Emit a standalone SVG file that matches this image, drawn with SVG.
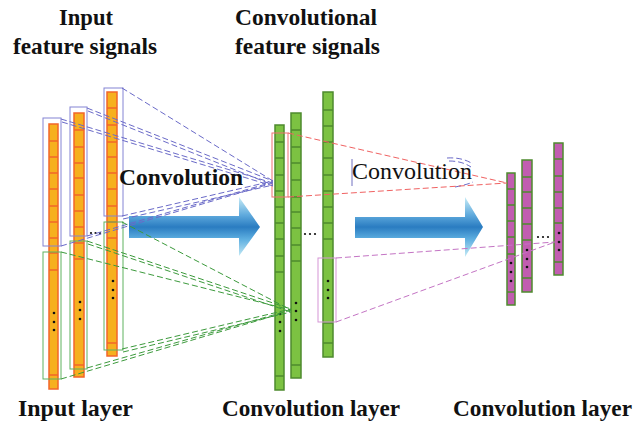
<svg xmlns="http://www.w3.org/2000/svg" width="633" height="423" viewBox="0 0 633 423">
<style>
.t{font-weight:bold;font-size:23px;fill:#111}
.tn{font-size:24px;fill:#111}
.or{fill:#F6B01E;stroke:#F2662A;stroke-width:1.5}
.orl{stroke:#F2662A;stroke-width:1.5}
.gr{fill:#7CC242;stroke:#4E8A2E;stroke-width:1.5}
.grl{stroke:#4E8A2E;stroke-width:1.5}
.pk{fill:#C15DB0;stroke:#4E8A2E;stroke-width:1.5}
.bbox{fill:none;stroke:#8484D4;stroke-width:1}
.gbox{fill:none;stroke:#5FB25F;stroke-width:1}
.rbox{fill:none;stroke:#F07070;stroke-width:1}
.mbox{fill:none;stroke:#D596D5;stroke-width:1}
.dl{fill:none;stroke-width:1;stroke-dasharray:6 3}
.db{stroke:#6A6AC8}
.dg{stroke:#3C9A3C}
.dr{stroke:#F06262}
.dm{stroke:#C474C4}
.dot{fill:#111}
</style>
<defs>
<linearGradient id="ag" x1="0" y1="197" x2="0" y2="257" gradientUnits="userSpaceOnUse">
<stop offset="0" stop-color="#C8ECF6"/>
<stop offset="0.3" stop-color="#5FAADD"/>
<stop offset="0.5" stop-color="#2A7CC1"/>
<stop offset="0.7" stop-color="#5DAEE0"/>
<stop offset="1" stop-color="#C8ECF6"/>
</linearGradient>
</defs>

<g id="titles" font-family="Liberation Serif, Tinos, Times New Roman, Times, serif">
<text class="t" x="59" y="25" textLength="54" lengthAdjust="spacingAndGlyphs">Input</text>
<text class="t" x="13" y="54" textLength="144" lengthAdjust="spacingAndGlyphs">feature signals</text>
<text class="t" x="235" y="25" textLength="142" lengthAdjust="spacingAndGlyphs">Convolutional</text>
<text class="t" x="235" y="54" textLength="145" lengthAdjust="spacingAndGlyphs">feature signals</text>
<text class="t" x="18" y="416" textLength="115" lengthAdjust="spacingAndGlyphs">Input layer</text>
<text class="t" x="222" y="416" textLength="178" lengthAdjust="spacingAndGlyphs">Convolution layer</text>
<text class="t" x="453" y="416" textLength="179" lengthAdjust="spacingAndGlyphs">Convolution layer</text>
</g>

<g id="arrows">
<path d="M129,216 H239 V197 L260,227 L239,256 V238 H129 Z" fill="url(#ag)"/>
<path d="M355,217 H465 V197 L483,227 L465,257 V238 H355 Z" fill="url(#ag)"/>
</g>

<g id="input-bar-1">
<rect class="or" x="49" y="124" width="9" height="265"/>
<path class="orl" d="M49,141h9M49,157h9M49,173h9M49,189h9M49,206h9M49,222h9M49,238h9M49,253h9M49,270h9M49,375h9"/>
<circle class="dot" cx="54" cy="313" r="1.3"/><circle class="dot" cx="54" cy="322" r="1.3"/><circle class="dot" cx="54" cy="330" r="1.3"/>
</g>
<g id="input-bar-2">
<rect class="or" x="74" y="113" width="10" height="264"/>
<path class="orl" d="M74,130h10M74,147h10M74,163h10M74,178h10M74,195h10M74,211h10M74,227h10M74,243h10M74,259h10M74,365h10"/>
<circle class="dot" cx="80" cy="302" r="1.3"/><circle class="dot" cx="80" cy="310" r="1.3"/><circle class="dot" cx="80" cy="319" r="1.3"/>
</g>
<g id="input-bar-3">
<rect class="or" x="107" y="92" width="10" height="264"/>
<path class="orl" d="M107,108h10M107,125h10M107,142h10M107,157h10M107,173h10M107,189h10M107,206h10M107,222h10M107,238h10M107,343h10"/>
<circle class="dot" cx="113" cy="281" r="1.3"/><circle class="dot" cx="113" cy="290" r="1.3"/><circle class="dot" cx="113" cy="298" r="1.3"/>
</g>
<g id="input-ellipsis">
<circle class="dot" cx="91" cy="233" r="1.1"/><circle class="dot" cx="95.5" cy="233" r="1.1"/><circle class="dot" cx="100" cy="233" r="1.1"/>
</g>

<g id="input-windows">
<rect class="bbox" x="43" y="118" width="18" height="128"/>
<rect class="bbox" x="70" y="107" width="17" height="129"/>
<rect class="bbox" x="104" y="88" width="19" height="128"/>
<rect class="gbox" x="43" y="252" width="18" height="127"/>
<rect class="gbox" x="70" y="241" width="17" height="128"/>
<rect class="gbox" x="104" y="222" width="19" height="128"/>
</g>

<g id="conv-bar-1">
<rect class="gr" x="275" y="125" width="9" height="265"/>
<path class="grl" d="M275,142h9M275,158h9M275,175h9M275,191h9M275,207h9M275,223h9M275,239h9M275,256h9M275,272h9M275,376h9"/>
<circle class="dot" cx="280" cy="314" r="1.3"/><circle class="dot" cx="280" cy="322" r="1.3"/><circle class="dot" cx="280" cy="331" r="1.3"/>
</g>
<g id="conv-bar-2">
<rect class="gr" x="291" y="113" width="10" height="265"/>
<path class="grl" d="M291,130h10M291,147h10M291,163h10M291,180h10M291,197h10M291,212h10M291,228h10M291,245h10M291,261h10M291,365h10"/>
<circle class="dot" cx="296" cy="303" r="1.3"/><circle class="dot" cx="296" cy="311" r="1.3"/><circle class="dot" cx="296" cy="320" r="1.3"/>
</g>
<g id="conv-bar-3">
<rect class="gr" x="323" y="92" width="10" height="265"/>
<path class="grl" d="M323,110h10M323,126h10M323,142h10M323,158h10M323,175h10M323,191h10M323,207h10M323,223h10M323,239h10M323,323h10M323,343h10"/>
<circle class="dot" cx="328" cy="281" r="1.3"/><circle class="dot" cx="328" cy="290" r="1.3"/><circle class="dot" cx="328" cy="298" r="1.3"/>
</g>
<g id="conv-ellipsis">
<circle class="dot" cx="305" cy="234" r="1.1"/><circle class="dot" cx="310" cy="234" r="1.1"/><circle class="dot" cx="315" cy="234" r="1.1"/>
</g>
<g id="conv-windows">
<rect class="rbox" x="272" y="133" width="16" height="64"/>
<rect class="mbox" x="318" y="258" width="18" height="64"/>
</g>

<g id="out-bar-1">
<rect class="pk" x="507" y="173" width="8" height="132"/>
<path class="grl" d="M507,189h8M507,205h8M507,221h8M507,237h8M507,254h8M507,292h8"/>
<circle class="dot" cx="511" cy="263" r="1.3"/><circle class="dot" cx="511" cy="272" r="1.3"/><circle class="dot" cx="511" cy="281" r="1.3"/>
</g>
<g id="out-bar-2">
<rect class="pk" x="522" y="160" width="10" height="132"/>
<path class="grl" d="M522,177h10M522,192h10M522,208h10M522,224h10M522,240h10M522,278h10"/>
<circle class="dot" cx="527" cy="250" r="1.3"/><circle class="dot" cx="527" cy="259" r="1.3"/><circle class="dot" cx="527" cy="267" r="1.3"/>
</g>
<g id="out-bar-3">
<rect class="pk" x="554" y="143" width="9" height="132"/>
<path class="grl" d="M554,159h9M554,176h9M554,192h9M554,208h9M554,223h9M554,262h9"/>
<circle class="dot" cx="559" cy="233" r="1.3"/><circle class="dot" cx="559" cy="242" r="1.3"/><circle class="dot" cx="559" cy="250" r="1.3"/>
</g>
<g id="out-ellipsis">
<circle class="dot" cx="538" cy="237" r="1.1"/><circle class="dot" cx="543" cy="237" r="1.1"/><circle class="dot" cx="548" cy="237" r="1.1"/>
</g>

<g id="connectors">
<g class="dl db">
<path d="M122,88 L273,181"/>
<path d="M87,108 L273,181"/><path d="M88,111 L273,185"/>
<path d="M61,119 L273,183"/><path d="M62,122 L273,186"/>
<path d="M122,216 L273,181"/><path d="M123,219 L273,185"/>
<path d="M87,236 L273,182"/>
<path d="M61,246 L273,183"/>
<path d="M447,158 Q462,157 473,164"/><path d="M449,161 Q462,161 471,167"/>
<path d="M455,187 Q466,185 473,182"/>
</g>
<g class="dl dg">
<path d="M122,222 L291,310"/>
<path d="M87,241 L291,309"/><path d="M88,244 L291,312"/>
<path d="M61,252 L291,310"/>
<path d="M122,349 L291,309"/><path d="M123,352 L291,312"/>
<path d="M87,368 L291,310"/>
<path d="M61,379 L280,314"/>
</g>
<g class="dl dr">
<path d="M288,133 L507,183"/>
<path d="M288,197 L507,183"/>
</g>
<g class="dl dm">
<path d="M336,258 L555,242"/>
<path d="M336,322 L555,242"/>
</g>
</g>

<g id="labels" font-family="Liberation Serif, Tinos, Times New Roman, Times, serif">
<text class="t" x="119" y="185" textLength="124" lengthAdjust="spacingAndGlyphs">Convolution</text>
<line x1="352" y1="159" x2="352" y2="186" stroke="#7070C0" stroke-width="1"/>
<text class="tn" x="352" y="179" textLength="120" lengthAdjust="spacingAndGlyphs">Convolution</text>
</g>
</svg>
